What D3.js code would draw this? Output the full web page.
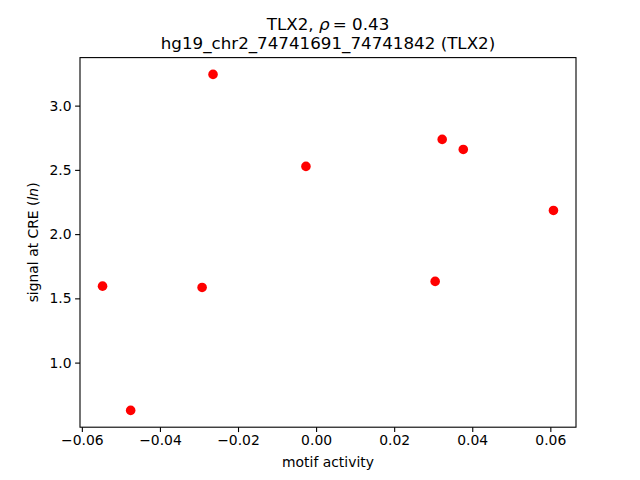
<!DOCTYPE html>
<html>
<head>
<meta charset="utf-8">
<script src="https://cdn.jsdelivr.net/npm/d3@7"></script>
<style>
  body { margin: 0; background: #fff; }
  svg { display: block; font-family: "DejaVu Sans", sans-serif; }
</style>
</head>
<body>
<svg id="chart" width="640" height="480"></svg>
<script>
// motif activity vs signal
const motifActivity = [-0.0264, 0.0323, 0.0377, -0.0026, 0.0608, -0.0547, -0.0292, 0.0305, -0.0475];
const creSignal     = [3.243, 2.737, 2.659, 2.527, 2.184, 1.595, 1.585, 1.632, 0.628];
const xTicks = [-0.06, -0.04, -0.02, 0.00, 0.02, 0.04, 0.06];
const yTicks = [1.0, 1.5, 2.0, 2.5, 3.0];

let points = motifActivity.map((m, i) => ({ x: m, y: creSignal[i] }));

let svg = d3.select('#chart');
let axLeft = 80, axRight = 576, axTop = 57.6, axBottom = 427.2;

// matplotlib style 5% margins
let xExt = d3.extent(motifActivity), yExt = d3.extent(creSignal);
let xPad = (xExt[1] - xExt[0]) * 0.05, yPad = (yExt[1] - yExt[0]) * 0.05;

let x = d3.scaleLinear().domain([xExt[0] - xPad, xExt[1] + xPad]).range([axLeft, axRight]);
let y = d3.scaleLinear().domain([yExt[0] - yPad, yExt[1] + yPad]).range([axBottom, axTop]);

let xAxis = d3.axisBottom(x).tickValues(xTicks).tickSize(4.9).tickPadding(3.5).tickFormat(d3.format('.2f'));
let yAxis = d3.axisLeft(y).tickValues(yTicks).tickSize(4.9).tickPadding(3.5).tickFormat(d3.format('.1f'));

let gx = svg.append('g').attr('transform', `translate(0,${axBottom})`).call(xAxis);
let gy = svg.append('g').attr('transform', `translate(${axLeft},0)`).call(yAxis);

[gx, gy].forEach(g => {
  g.select('.domain').remove();
  g.selectAll('line').attr('stroke', '#000').attr('stroke-width', 1.1);
  g.selectAll('text').attr('fill', '#000').style('font-size', '13.9px').style('font-family', '"DejaVu Sans", sans-serif');
});

// points
svg.append('g').selectAll('circle')
  .data(points)
  .join('circle')
  .attr('cx', d => x(d.x))
  .attr('cy', d => y(d.y))
  .attr('r', 4.8)
  .style('fill', 'red');

// frame
svg.append('rect')
  .attr('x', axLeft).attr('y', axTop)
  .attr('width', axRight - axLeft).attr('height', axBottom - axTop)
  .style('fill', 'none').style('stroke', '#000').style('stroke-width', 1.1);

// titles
let midX = (axLeft + axRight) / 2;
let t1 = svg.append('text').attr('x', midX).attr('y', 29.5).attr('text-anchor', 'middle').style('font-size', '16.7px');
t1.append('tspan').text('TLX2, ');
t1.append('tspan').style('font-style', 'italic').text('ρ');
t1.append('tspan').text('\u2009= 0.43');

svg.append('text').attr('x', midX).attr('y', 48.5).attr('text-anchor', 'middle')
  .style('font-size', '16.7px')
  .text('hg19_chr2_74741691_74741842 (TLX2)');

svg.append('text').attr('x', midX).attr('y', 466.5).attr('text-anchor', 'middle')
  .style('font-size', '13.9px').text('motif activity');

let yl = svg.append('text')
  .attr('transform', `translate(38,${(axTop + axBottom) / 2}) rotate(-90)`)
  .attr('text-anchor', 'middle')
  .style('font-size', '13.9px');
yl.append('tspan').text('signal at CRE (');
yl.append('tspan').style('font-style', 'italic').text('ln');
yl.append('tspan').text(')');
</script>
</body>
</html>
